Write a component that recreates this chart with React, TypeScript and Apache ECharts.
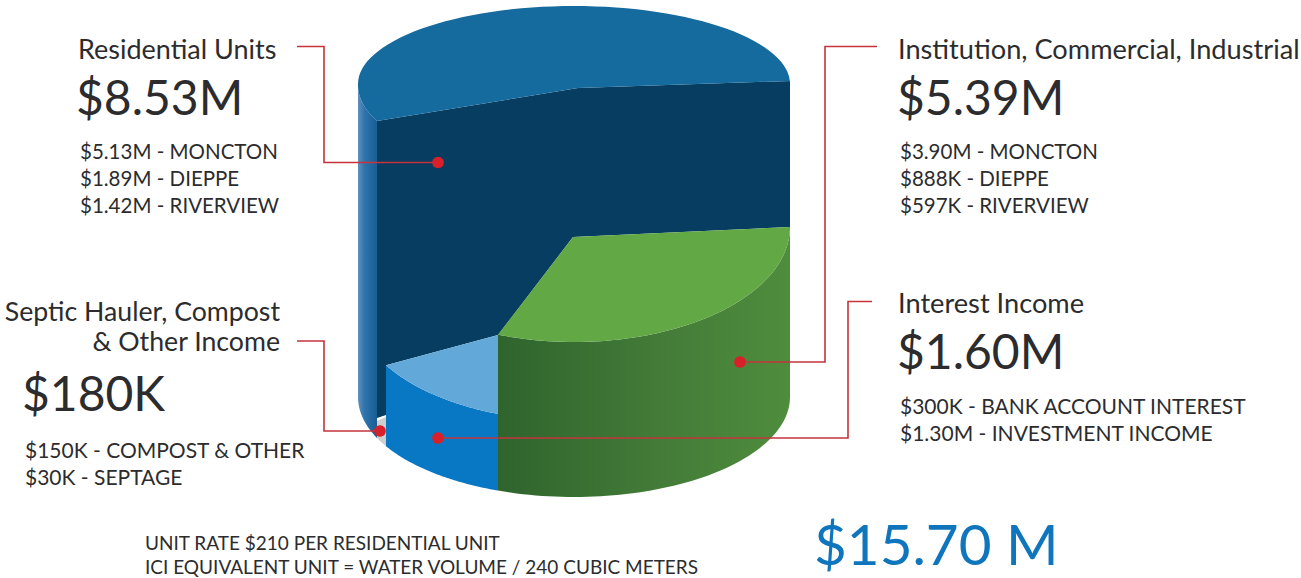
import React, { useEffect, useRef } from "react";
import * as echarts from "echarts";

// Slices, front-right first, in the order they are drawn round the cylinder
const sliceNames = ["Institution, Commercial, Industrial", "Interest Income", "Septic Hauler, Compost & Other Income", "Residential Units"];
const sliceMillions = [5.39, 1.6, 0.18, 8.53];
const drawnSweepDegrees = [110.6, 39.9, 5.3, 204.2];
const sliceColors = ["#62a845", "#62a9da", "#cfcfcf", "#156a9e"];

const residentialDetail = ["$5.13M - MONCTON", "$1.89M - DIEPPE", "$1.42M - RIVERVIEW"];
const iciDetail = ["$3.90M - MONCTON", "$888K - DIEPPE", "$597K - RIVERVIEW"];
const interestDetail = ["$300K - BANK ACCOUNT INTEREST", "$1.30M - INVESTMENT INCOME"];
const septicDetail = ["$150K - COMPOST & OTHER", "$30K - SEPTAGE"];
const footnotes = ["UNIT RATE $210 PER RESIDENTIAL UNIT", "ICI EQUIVALENT UNIT = WATER VOLUME / 240 CUBIC METERS"];
const totalLabel = "$15.70 M";

const FONT = 'Lato, sans-serif';
const INK = "#2c2c2e";
const RED = "#c5343c";
const CX = 574;
const RX = 216;

const ell = (deg: number, cy: number, ry: number) => {
  const t = (deg * Math.PI) / 180;
  return [CX + RX * Math.cos(t), cy + ry * Math.sin(t)];
};
const arc = (a: number, b: number, cy: number, ry: number) => {
  const out: number[][] = [];
  const n = 64;
  for (let i = 0; i <= n; i++) out.push(ell(a + ((b - a) * i) / n, cy, ry));
  return out;
};

const bounds = drawnSweepDegrees.reduce((acc: number[], s) => [...acc, acc[acc.length - 1] + s], [0]);

const hgrad = (stops: [number, string][]) =>
  new echarts.graphic.LinearGradient(0, 0, 1, 0, stops.map(([offset, color]) => ({ offset, color })));

function renderCylinder(_p: any, api: any) {
  const [g0, g1, b1, s1] = bounds;
  const BOT_Y = 397, BOT_R = 100;
  const poly = (pts: number[][], fill: any) => ({
    type: "polygon",
    shape: { points: pts.map((p) => api.coord(p)) },
    style: { fill, stroke: "none", lineWidth: 0 },
  });
  const topBack = arc(360, 180, 84, 78);
  const topFront = arc(180, s1, 85, 88);
  const leftPt = ell(s1, 85, 88);
  const apexTop = [578, 88];
  const rightTop = [790, 81];
  const greenApex = [573, 237];
  const greenRight = [790, 227];
  const greenFront = arc(g0, g1, 227, 115);
  const blueFront = arc(g1, b1, 311, 110);
  const bot = arc(g0, g1, BOT_Y, BOT_R);
  const botBlue = arc(g1, b1, BOT_Y, BOT_R);
  const botGrey = arc(b1, s1, BOT_Y, BOT_R);
  const botStrip = arc(s1, 180, BOT_Y, BOT_R);
  const blueApex = [greenFront[greenFront.length - 1][0], 335];
  const blueEnd = blueFront[blueFront.length - 1];

  const children = [
    // dark cut face of the residential slice
    poly(
      [leftPt, apexTop, rightTop, greenRight, greenApex, blueApex, blueEnd, [blueEnd[0], 415], [leftPt[0], 418]],
      "#063d60"
    ),
    // left outer wall of the residential slice
    poly([...topFront, ...botStrip], hgrad([[0, "#5f90bd"], [0.35, "#2f73ab"], [1, "#185c96"]])),
    // top of the residential slice
    poly([...topBack, ...topFront, apexTop, rightTop], sliceColors[3]),
    // septic sliver
    poly([[leftPt[0], 421], [blueEnd[0], 417], ...botGrey], sliceColors[2]),
    // interest slice
    poly([...blueFront, ...[...botBlue].reverse()], "#0878c4"),
    poly([blueApex, ...blueFront], sliceColors[1]),
    // ICI slice
    poly([...greenFront, ...[...bot].reverse()], hgrad([[0, "#2f652d"], [0.12, "#33692f"], [0.55, "#437b38"], [1, "#4f8d3d"]])),
    poly([greenApex, greenRight, ...greenFront], sliceColors[0]),
  ];
  return { type: "group", children };
}

const text = (x: number, y: number, t: string, size: number, opts: any = {}) => ({
  type: "text",
  x,
  y,
  z: 100,
  silent: true,
  style: {
    text: t,
    fontFamily: FONT,
    fontSize: size,
    fontWeight: 400,
    fill: opts.fill ?? INK,
    textAlign: opts.align ?? "left",
    textVerticalAlign: "middle",
  },
});

const leader = (pts: number[][]) => ({
  type: "polyline",
  z: 99,
  silent: true,
  shape: { points: pts },
  style: { stroke: RED, lineWidth: 1.6, fill: "none" },
});
const dot = (x: number, y: number) => ({
  type: "circle",
  z: 101,
  silent: true,
  shape: { cx: x, cy: y, r: 5.8 },
  style: { fill: "#d8202a" },
});

const lines = (x: number, ys: number[], arr: string[], size: number) => arr.map((t, i) => text(x, ys[i], t, size));

const elements = [
  text(78, 48, sliceNames[3], 27),
  text(76, 96, "$" + sliceMillions[3].toFixed(2) + "M", 48),
  ...lines(80, [151, 178, 205], residentialDetail, 20.5),
  text(898, 48, sliceNames[0], 27.2),
  text(897, 96, "$" + sliceMillions[0].toFixed(2) + "M", 48),
  ...lines(900, [151, 178, 205], iciDetail, 20.5),
  text(898, 302, sliceNames[1], 27.2),
  text(897, 350, "$" + sliceMillions[1].toFixed(2) + "M", 48),
  ...lines(900, [405, 432], interestDetail, 21),
  text(280, 311, "Septic Hauler, Compost", 26.7, { align: "right" }),
  text(280, 341, "& Other Income", 26.7, { align: "right" }),
  text(22, 392, "$180K", 48),
  ...lines(25, [449, 476], septicDetail, 21),
  ...lines(145, [542, 566], footnotes, 19),
  text(814, 543, totalLabel, 56.6, { fill: "#0f75bc" }),
  leader([[297, 46.5], [324, 46.5], [324, 162.5], [438, 162.5]]),
  leader([[877, 46.5], [825, 46.5], [825, 362], [740, 362]]),
  leader([[872, 301.5], [848, 301.5], [848, 438], [438, 438]]),
  leader([[297, 341], [324, 341], [324, 431], [380, 431]]),
  dot(438, 162.5),
  dot(740, 362),
  dot(438, 438),
  dot(380, 431),
];

export default function App() {
  const ref = useRef<HTMLDivElement>(null);
  useEffect(() => {
    document.body.style.margin = "0";
    document.body.style.background = "#fff";
    const chart = echarts.init(ref.current!, undefined, { renderer: "svg" });
    chart.setOption({
      animation: false,
      backgroundColor: "#ffffff",
      grid: { left: 0, right: 0, top: 0, bottom: 0 },
      xAxis: { type: "value", min: 0, max: 1301, show: false },
      yAxis: { type: "value", min: 0, max: 578, inverse: true, show: false },
      series: [
        {
          type: "custom",
          coordinateSystem: "cartesian2d",
          clip: false,
          silent: true,
          data: [[0, sliceMillions[0]]],
          renderItem: renderCylinder,
        },
      ],
      graphic: { elements },
    });
    return () => chart.dispose();
  }, []);
  return <div ref={ref} style={{ width: 1301, height: 578 }} />;
}
